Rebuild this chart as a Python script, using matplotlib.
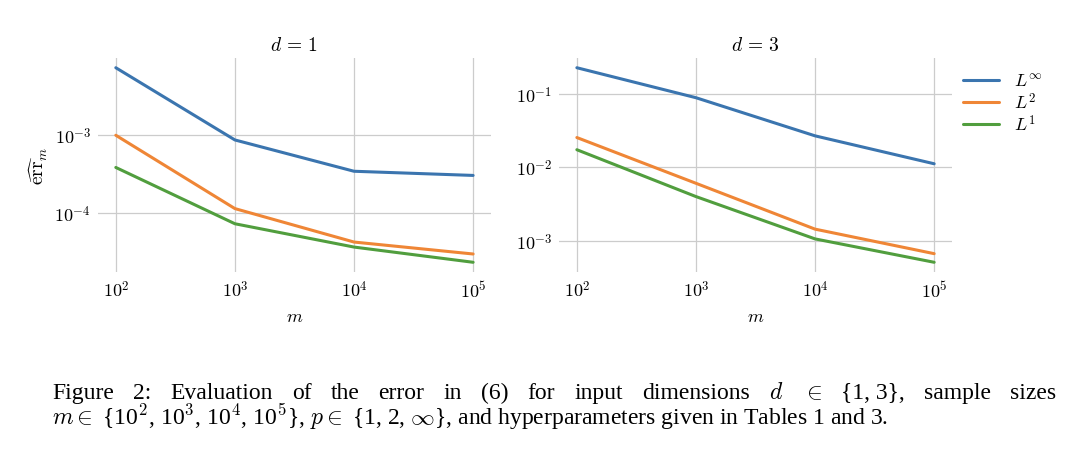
import matplotlib
matplotlib.use("Agg")
import matplotlib.pyplot as plt
import matplotlib.ticker as ticker
import numpy as np

plt.rcParams["mathtext.fontset"] = "cm"
plt.rcParams["font.family"] = ["DejaVu Serif"]
plt.rcParams["axes.spines.left"] = False
plt.rcParams["axes.spines.right"] = False
plt.rcParams["axes.spines.top"] = False
plt.rcParams["axes.spines.bottom"] = False

# data
m = [1e2, 1e3, 1e4, 1e5]
err_d1_inf = [7.45e-3, 8.7e-4, 3.43e-4, 3.03e-4]
err_d1_l2 = [1.0e-3, 1.13e-4, 4.18e-5, 2.93e-5]
err_d1_l1 = [3.84e-4, 7.2e-5, 3.6e-5, 2.29e-5]
err_d3_inf = [0.228, 0.089, 0.0269, 0.0112]
err_d3_l2 = [0.0255, 6.07e-3, 1.44e-3, 6.67e-4]
err_d3_l1 = [0.0174, 4.0e-3, 1.06e-3, 5.09e-4]
labels = ["$L^\\infty$", "$L^2$", "$L^1$"]
colors = ["#3b75af", "#ef8636", "#519e3e"]
titles = ["$d\\,=\\,1$", "$d\\,=\\,3$"]


def pow10(v, pos):
    return "$10^{%d}$" % int(round(np.log10(v)))


fig = plt.figure(figsize=(10.8, 4.56), dpi=100)
ax1 = fig.add_axes([0.0907, 0.4013, 0.3639, 0.4693])
ax2 = fig.add_axes([0.5176, 0.4013, 0.3639, 0.4693])

series = [(err_d1_inf, err_d1_l2, err_d1_l1), (err_d3_inf, err_d3_l2, err_d3_l1)]
for ax, ss, title in zip([ax1, ax2], series, titles):
    for s, lab, c in zip(ss, labels, colors):
        ax.plot(m, s, color=c, lw=2.2, label=lab, solid_capstyle="round")
    ax.set_xscale("log")
    ax.set_yscale("log")
    ax.grid(True, which="major", color="#cccccc", lw=0.9)
    ax.minorticks_off()
    ax.xaxis.set_major_formatter(ticker.FuncFormatter(pow10))
    ax.yaxis.set_major_formatter(ticker.FuncFormatter(pow10))
    ax.tick_params(length=0, labelsize=13)
    ax.tick_params(axis="x", pad=6)
    ax.tick_params(axis="y", pad=5)
    ax.set_title(title, fontsize=14, pad=6)
    ax.set_xlabel("$m$", fontsize=13, labelpad=4)
    ax.set_axisbelow(True)

ax1.set_ylabel("$\\widehat{\\mathrm{err}}_m$", fontsize=14, labelpad=3)

fig.legend(*ax2.get_legend_handles_labels(), loc="upper left",
           bbox_to_anchor=(0.892, 0.84), frameon=False, fontsize=13,
           borderpad=0, borderaxespad=0, handlelength=2.0, handletextpad=0.8,
           labelspacing=0.1)

# caption, first line justified
cap_font = dict(family="Liberation Serif", fontsize=17)
words = ["Figure", "2:", "Evaluation", "of", "the", "error", "in", "(6)", "for",
         "input", "dimensions", "$d$", "$\\in$", "{1, 3},", "sample", "sizes"]
x0, x1 = 52 / 1080, 1056 / 1080
y_line1 = 1 - 399 / 456
y_line2 = 1 - 425 / 456
renderer = fig.canvas.get_renderer()
texts = [fig.text(0, y_line1, w, va="baseline", ha="left", **cap_font) for w in words]
widths = [t.get_window_extent(renderer).width / 1080 for t in texts]
gap = (x1 - x0 - sum(widths)) / (len(words) - 1)
x = x0
for t, w in zip(texts, widths):
    t.set_x(x)
    x += w + gap
fig.text(x0, y_line2, "$m \\in$ {10$^2$, 10$^3$, 10$^4$, 10$^5$}, $p \\in$ {1, 2, $\\infty$}, "
         "and hyperparameters given in Tables 1 and 3.", va="baseline", ha="left", **cap_font)

fig.savefig("out.png", dpi=100)
